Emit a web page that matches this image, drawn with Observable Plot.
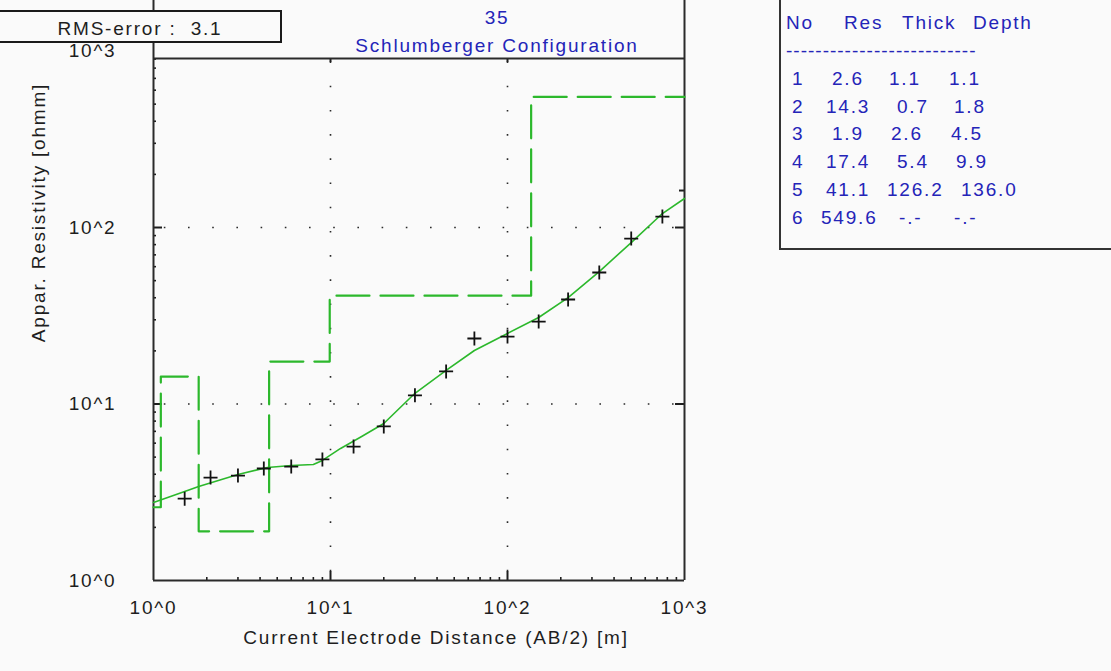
<!DOCTYPE html>
<html>
<head>
<meta charset="utf-8">
<script src="https://cdn.jsdelivr.net/npm/d3@7"></script>
<script src="https://cdn.jsdelivr.net/npm/@observablehq/plot@0.6"></script>
<style>
  html, body { margin: 0; padding: 0; background: #fafafa; width: 1111px; height: 671px; overflow: hidden; }
  body { position: relative; font-family: "Liberation Sans", Arial, sans-serif; font-size: 19px; letter-spacing: 1.8px; color: #1e1e1e; }
  #chart { position: absolute; left: 0; top: 0; }
  #rms { position: absolute; left: -2px; top: 10px; width: 280px; height: 24px; padding-top: 5px; line-height: 24px;
         border: 2px solid #1a1a1a; background: #fafafa; white-space: pre; text-align: center; }
  .title { position: absolute; left: 347px; width: 300px; text-align: center; color: #2424b8; line-height: 22px; white-space: pre; }
  #tablebox { position: absolute; left: 779px; top: -2px; width: 340px; height: 250px;
              border-left: 2px solid #333; border-bottom: 2px solid #333; }
  .cell { position: absolute; color: #2424b8; line-height: 22px; white-space: pre; }
</style>
</head>
<body>
<div id="chart"></div>
<div id="rms"></div>
<div class="title" id="title1" style="top:7px"></div>
<div class="title" id="title2" style="top:35px"></div>
<div id="tablebox"></div>
<script>
// ---- Sounding data ----
const rmsError = 3.1;
const soundingNo = "35";
const configuration = "Schlumberger Configuration";

// Observed apparent resistivity at each AB/2 spacing
const spacing  = [1.5, 2.1, 3, 4.2, 6, 9, 13.5, 20, 30, 45, 65, 100, 150, 220, 330, 500, 750];
const observed = [2.91, 3.83, 3.93, 4.31, 4.42, 4.85, 5.74, 7.46, 11.2, 15.3, 23.5, 24.1, 29.3, 39.1, 55.6, 86.6, 115.4];

// Computed (model) sounding curve
const modelX = [1, 1.5, 1.8, 3, 4.4, 6, 8, 9, 11.4, 15, 20, 30, 45, 65, 100, 150, 220, 330, 500, 750, 1000];
const modelY = [2.77, 3.19, 3.41, 3.99, 4.37, 4.48, 4.54, 4.79, 5.6, 6.55, 7.75, 11.5, 15.5, 20.1, 25.1, 30.9, 40.1, 56.3, 82.2, 120, 146];

// Layered earth model
const layerRes   = [2.6, 14.3, 1.9, 17.4, 41.1, 549.6];
const layerThick = [1.1, 0.7, 2.6, 5.4, 126.2];
const layerDepth = [1.1, 1.8, 4.5, 9.9, 136.0];

// Axes
const xDomain = [1, 1000];
const yDomain = [1, 907];
const majorTicks = [1, 10, 100, 1000];
const innerMajor = [10, 100];
const minorTicks = [2,3,4,5,6,7,8,9, 20,30,40,50,60,70,80,90, 200,300,400,500,600,700,800,900];
const rightMinor = [162];
const xLabel = "Current Electrode Distance (AB/2) [m]";
const yLabel = "Appar. Resistivity [ohmm]";
const tableHeader = ["No", "Res", "Thick", "Depth"];

// ---- Layout ----
const W = 760, H = 671;
const mL = 153, mR = 76, mT = 58, mB = 91;
const plotW = W - mL - mR, plotH = H - mT - mB;
const green = "#2cb82c";
const ink = "#1e1e1e";

const observedData = spacing.map((x, i) => ({x, y: observed[i]}));
const modelData = modelX.map((x, i) => ({x, y: modelY[i]}));
const stepData = [xDomain[0], ...layerDepth, xDomain[1]]
  .map((x, i) => ({x, y: layerRes[Math.min(i, layerRes.length - 1)]}));

// thin "+" marker
const plusSymbol = {
  draw(context, size) {
    const r = Math.sqrt(size / Math.PI);
    context.moveTo(-r, 0); context.lineTo(r, 0);
    context.moveTo(0, -r); context.lineTo(0, r);
  }
};
const powerFormat = d => "10^" + Math.round(Math.log10(d));

const chart = Plot.plot({
  width: W, height: H,
  marginLeft: mL, marginRight: mR, marginTop: mT, marginBottom: mB,
  x: {type: "log", domain: xDomain, axis: null},
  y: {type: "log", domain: yDomain, axis: null},
  style: {background: "transparent", fontFamily: "'Liberation Sans', Arial, sans-serif", fontSize: "19px",
          letterSpacing: "1.8px", color: ink, overflow: "visible"},
  marks: [
    // dotted decade grid
    Plot.ruleX(innerMajor, {stroke: "#2a2a2a", strokeWidth: 1.6, strokeDasharray: "1.6,22.6", strokeDashoffset: 20.7}),
    Plot.ruleY(innerMajor, {stroke: "#2a2a2a", strokeWidth: 1.6, strokeDasharray: "1.6,22.6", strokeDashoffset: 13.4}),
    // inward minor ticks (bottom, left)
    Plot.ruleX(minorTicks, {insetTop: plotH - 3, stroke: ink, strokeWidth: 1.6}),
    Plot.ruleY(minorTicks.filter(d => d <= yDomain[1]), {insetRight: plotW - 3, stroke: ink, strokeWidth: 1.6}),
    // inward major ticks
    Plot.ruleX(innerMajor, {insetTop: plotH - 9, stroke: ink, strokeWidth: 2}),
    Plot.ruleX(innerMajor, {insetBottom: plotH - 4, stroke: ink, strokeWidth: 2}),
    Plot.ruleY(innerMajor, {insetRight: plotW - 9, stroke: ink, strokeWidth: 2}),
    Plot.ruleY(innerMajor, {insetLeft: plotW - 9, stroke: ink, strokeWidth: 2}),
    Plot.ruleY(rightMinor, {insetLeft: plotW - 5, stroke: ink, strokeWidth: 2}),
    // frame
    Plot.ruleX(xDomain, {insetTop: -mT, stroke: "#2a2a2a", strokeWidth: 2}),
    Plot.ruleY(yDomain, {stroke: "#2a2a2a", strokeWidth: 2}),
    // layered model (dashed steps)
    Plot.line(stepData, {x: "x", y: "y", curve: "step-after", stroke: green, strokeWidth: 2.2, strokeDasharray: "33,11"}),
    // computed curve
    Plot.line(modelData, {x: "x", y: "y", stroke: green, strokeWidth: 1.6}),
    // observed data
    Plot.dot(observedData, {x: "x", y: "y", symbol: plusSymbol, r: 7, fill: "none", stroke: "#111", strokeWidth: 1.8}),
    // tick labels
    Plot.text(majorTicks, {x: d => d, frameAnchor: "bottom", text: powerFormat, lineAnchor: "middle", dy: 27, fill: ink}),
    Plot.text(majorTicks, {y: d => d, frameAnchor: "left", text: powerFormat, textAnchor: "end", lineAnchor: "middle", dx: -37, fill: ink}),
    // axis titles
    Plot.text([xLabel], {text: d => d, frameAnchor: "bottom", textAnchor: "middle", lineAnchor: "middle", dx: 17, dy: 57, fill: ink}),
    Plot.text([yLabel], {text: d => d, frameAnchor: "left", textAnchor: "middle", lineAnchor: "middle", rotate: -90, dx: -115, dy: -107, fill: ink})
  ]
});
document.getElementById("chart").append(chart);

// ---- Header texts ----
document.getElementById("rms").textContent = "RMS-error :  " + rmsError.toFixed(1);
document.getElementById("title1").textContent = soundingNo;
document.getElementById("title2").textContent = configuration;

// ---- Layer table ----
const headerLeft = [786, 844, 902, 973];
const cellLeft = [
  [792, 832, 889, 949],
  [792, 826, 897, 954],
  [792, 832, 891, 951],
  [792, 826, 897, 956],
  [792, 826, 887, 961],
  [792, 821, 899, 954]
];
const rowTop = i => 68 + i * 27.7;
function addCell(text, left, top, extra) {
  const el = document.createElement("div");
  el.className = "cell";
  el.textContent = text;
  el.style.left = left + "px";
  el.style.top = top + "px";
  if (extra) Object.assign(el.style, extra);
  document.body.append(el);
}
tableHeader.forEach((t, j) => addCell(t, headerLeft[j], 12));
addCell("-".repeat(26), 786, 40, {letterSpacing: "1px"});
layerRes.forEach((res, i) => {
  const row = [
    String(i + 1),
    res.toFixed(1),
    i < layerThick.length ? layerThick[i].toFixed(1) : "-.-",
    i < layerDepth.length ? layerDepth[i].toFixed(1) : "-.-"
  ];
  row.forEach((t, j) => addCell(t, cellLeft[i][j], rowTop(i)));
});
</script>
</body>
</html>
